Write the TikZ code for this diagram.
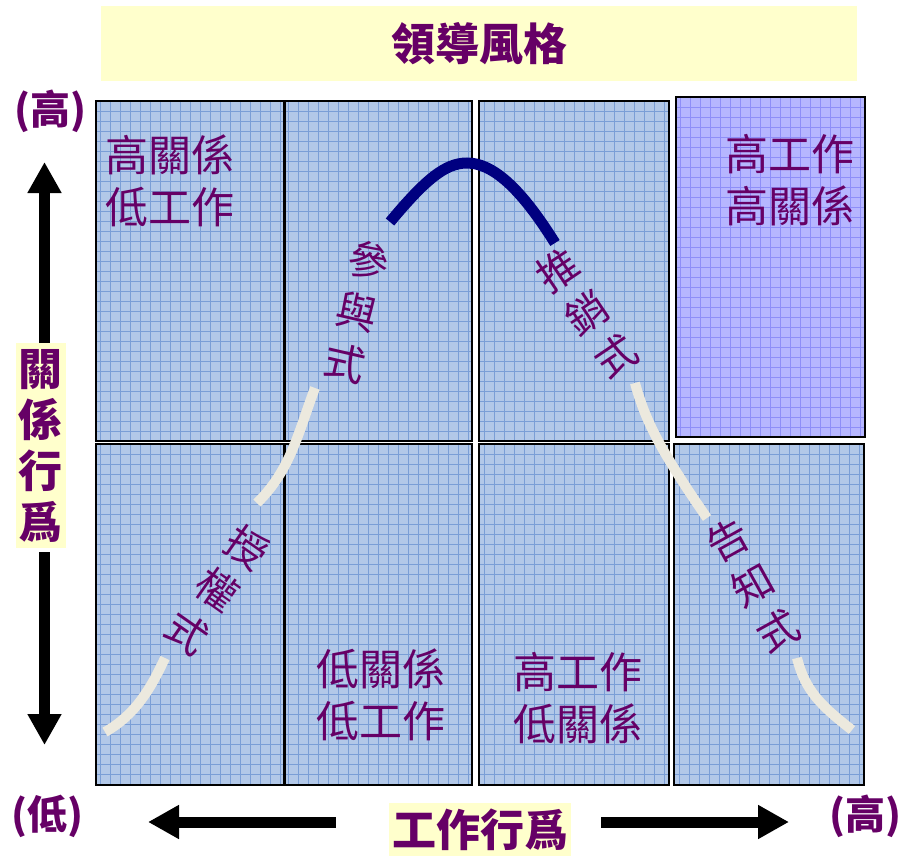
\documentclass[tikz,border=0pt]{standalone}
\usepackage{fontspec}
\newfontfamily\cjk{Noto Sans CJK TC}
\usetikzlibrary{arrows.meta}
\definecolor{txtpurple}{HTML}{660066}
\definecolor{labelyellow}{HTML}{FFFFCC}
\definecolor{cellblue}{RGB}{178,200,232}
\definecolor{cellgrid}{RGB}{122,158,214}
\definecolor{celllilac}{RGB}{182,182,255}
\definecolor{lilacgrid}{RGB}{142,142,248}
\definecolor{ivoryline}{RGB}{236,233,222}
\definecolor{navyline}{RGB}{0,0,128}

\begin{document}
\begin{tikzpicture}[x=1pt, y=-1pt,
	cell/.style={draw=black, line width=1.6pt, fill=cellblue, inner sep=0pt,
		path picture={\draw[cellgrid, line width=0.6pt] (path picture bounding box.south west) grid[step=10pt] (path picture bounding box.north east);}},
	lilaccell/.style={cell, fill=celllilac,
		path picture={\draw[lilacgrid, line width=0.6pt] (path picture bounding box.south west) grid[step=10pt] (path picture bounding box.north east);}},
	celltext/.style={text=txtpurple, font=\cjk\fontsize{43}{52}\selectfont, align=center, inner sep=0pt},
	slanttext/.style={celltext, font=\cjk\fontsize{41}{52}\selectfont},
	axistext/.style={text=txtpurple, font=\cjk\bfseries\fontsize{40}{51}\selectfont, align=center, inner sep=0pt},
	labelbox/.style={axistext, font=\cjk\bfseries\fontsize{44}{51}\selectfont, fill=labelyellow},
	bigarrow/.style={line width=11pt, -{Triangle[length=31pt, width=32pt]}},
	paleline/.style={ivoryline, line width=10pt},
	peakline/.style={navyline, line width=11pt}]
	\useasboundingbox (0, 0) rectangle (902, 856);

	\node (title) at (479, 43.5)	[labelbox, minimum width=756pt, minimum height=75pt]	{領導風格};

	\node (c1) at (190, 271)	[cell, minimum width=188pt, minimum height=340pt]	{};
	\node (c2) at (378.5, 271)	[cell, minimum width=187pt, minimum height=340pt]	{};
	\node (c3) at (574, 271)	[cell, minimum width=190pt, minimum height=340pt]	{};
	\node (c4) at (770.5, 267)	[lilaccell, minimum width=189pt, minimum height=340pt]	{};
	\node (c5) at (190, 614.5)	[cell, minimum width=188pt, minimum height=341pt]	{};
	\node (c6) at (378.5, 614.5)	[cell, minimum width=187pt, minimum height=341pt]	{};
	\node (c7) at (574, 614.5)	[cell, minimum width=190pt, minimum height=341pt]	{};
	\node (c8) at (769, 614.5)	[cell, minimum width=190pt, minimum height=341pt]	{};

	\draw[peakline] (390, 222) .. controls (425, 180) and (445, 163) .. (467, 163) .. controls (498, 163) and (528, 200) .. (555, 243);
	\draw[paleline] (315, 388) .. controls (299, 430) and (291, 470) .. (257, 503);
	\draw[paleline] (165, 658) .. controls (150, 690) and (135, 715) .. (105, 732);
	\draw[paleline] (635, 383) .. controls (645, 420) and (660, 450) .. (707, 518);
	\draw[paleline] (797, 658) .. controls (805, 690) and (820, 705) .. (852, 730);

	\node (t1) at (170, 181)	[celltext]	{高關係\\低工作};
	\node (t4) at (790, 180)	[celltext]	{高工作\\高關係};
	\node (t6) at (381, 695)	[celltext]	{低關係\\低工作};
	\node (t7) at (578, 698)	[celltext]	{高工作\\低關係};

	\node (participate) at (357, 312)	[slanttext, rotate=-13]	{參\\與\\式};
	\node (sell) at (587, 313)	[slanttext, rotate=34]	{推\\銷\\式};
	\node (delegate) at (217, 590)	[slanttext, rotate=-35]	{授\\權\\式};
	\node (tell) at (753, 585)	[slanttext, rotate=29]	{告\\知\\式};

	\node (relhigh) at (50, 111)	[axistext]	{(高)};
	\node (rel) at (41, 445.5)	[labelbox, minimum width=50pt, minimum height=205pt]	{關\\係\\行\\爲};
	\node (rellow) at (48, 816)	[axistext]	{(低)};
	\node (work) at (480, 829.5)	[labelbox, minimum width=182pt, minimum height=53pt]	{工作行爲};
	\node (workhigh) at (865, 816)	[axistext]	{(高)};

	\coordinate (uptip) at (44.5, 162);
	\coordinate (downtip) at (44.5, 745);
	\coordinate (lefttip) at (148, 822);
	\coordinate (righttip) at (789, 822);
	\draw[bigarrow] ([xshift=3.5pt]rel.north) -- (uptip);
	\draw[bigarrow, shorten <=4pt] ([xshift=3.5pt]rel.south) -- (downtip);
	\draw[bigarrow, shorten <=53pt] (work.west |- lefttip) -- (lefttip);
	\draw[bigarrow, shorten <=30pt] (work.east |- righttip) -- (righttip);
\end{tikzpicture}
\end{document}
